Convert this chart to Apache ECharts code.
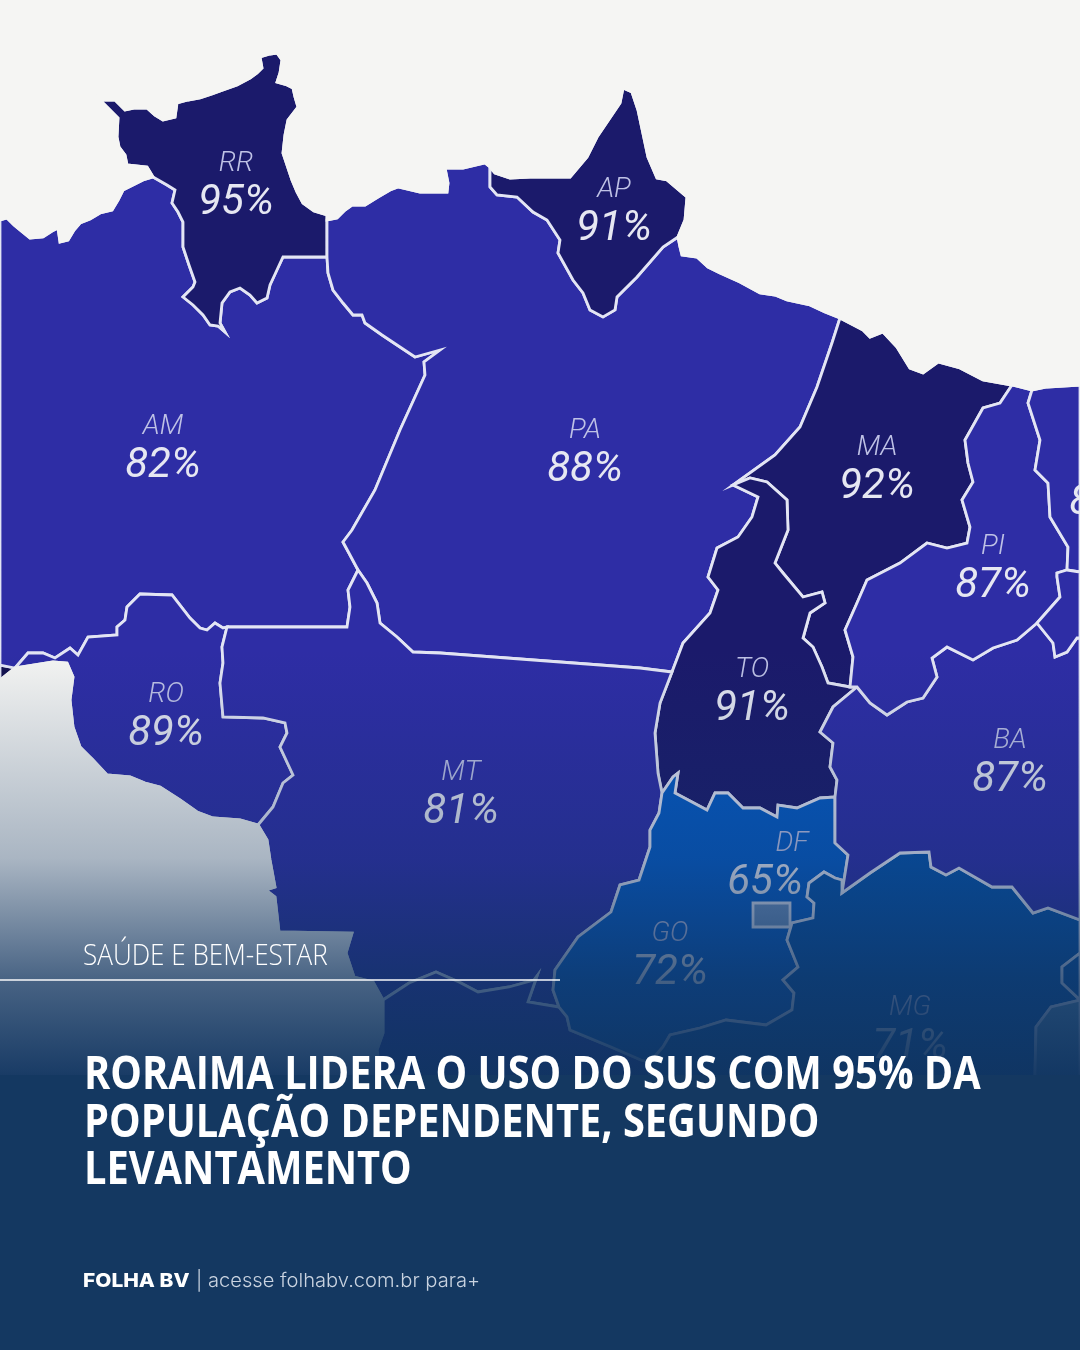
<!DOCTYPE html>
<html>
<head>
<meta charset="utf-8">
<title>Roraima lidera o uso do SUS</title>
<style>
  html, body { margin: 0; padding: 0; background: #f5f5f3; }
  #chart { width: 1080px; height: 1350px; }
</style>
<script src="https://cdn.jsdelivr.net/npm/echarts@6/dist/echarts.min.js"></script>
</head>
<body>
<div id="chart"></div>
<script>
// valores
const states = ['RR', 'AP', 'AM', 'PA', 'MA', 'PI', 'TO', 'RO', 'MT', 'BA', 'GO', 'DF', 'MG', 'CE'];
const percents = [95, 91, 82, 88, 92, 87, 91, 89, 81, 87, 72, 65, 71, 85];

const titleLines = [
  'RORAIMA LIDERA O USO DO SUS COM 95% DA',
  'POPULAÇÃO DEPENDENTE, SEGUNDO',
  'LEVANTAMENTO'
];
const kicker = 'SAÚDE E BEM-ESTAR';
const brand = 'FOLHA BV';
const footer = '| acesse folhabv.com.br para+';

// contornos do mapa de fundo (divisas compartilhadas entre estados)
const AM_COAST = [[0,220],[7,218],[14,225],[20,230],[30,238],[43,237],[52,231],[58,228],[60,242],[68,240],[74,230],[80,223],[90,219],[100,213],[112,210],[118,200],[123,190],[133,185],[143,180],[153,177]];
const RR_AM = [[153,177],[167,185],[175,190],[172,203],[178,212],[183,222],[183,247],[189,265],[195,282],[193,287],[183,297],[193,305],[203,315],[210,325],[218,326],[225,332],[220,323],[222,303],[230,292],[240,288],[250,295],[257,303],[267,298],[270,285],[276,272],[283,257],[327,257]];
const RR_OUT = [[153,177],[147,167],[127,165],[125,155],[119,147],[117,137],[118,118],[107,107],[93,93],[100,100],[115,100],[125,110],[135,108],[147,108],[155,115],[163,120],[175,117],[177,103],[188,100],[200,98],[212,94],[223,90],[237,85],[250,78],[257,73],[262,68],[260,57],[270,54],[277,53],[282,60],[280,73],[277,82],[287,85],[293,88],[295,97],[298,107],[288,120],[285,135],[283,153],[292,180],[297,192],[303,203],[314,211],[327,215],[327,257]];
const PA_AM = [[327,257],[328,273],[333,290],[343,303],[353,315],[362,315],[365,323],[382,335],[400,347],[415,357],[440,350],[424,362],[425,375],[400,430],[375,490],[352,530],[343,542],[350,555],[358,570]];
const AM_MT = [[358,570],[348,590],[350,607],[347,627],[227,627]];
const RO_AM = [[227,627],[223,628],[215,623],[207,630],[200,628],[190,618],[172,595],[140,594],[127,607],[125,620],[117,627],[117,635],[88,637],[78,655],[70,648],[55,658],[43,653],[28,653],[15,668]];
const RO_COAST = [[15,668],[53,662],[67,663],[73,677],[70,700],[73,727],[80,747],[93,760],[107,775],[130,777],[145,783],[160,787],[180,800],[197,812],[213,818],[240,820],[258,825]];
const RO_MT = [[227,627],[222,647],[223,663],[220,683],[223,717],[263,718],[285,723],[287,733],[280,747],[293,775],[283,783],[273,807],[258,825]];
const MT_COAST = [[258,825],[267,840],[270,860],[275,887],[266,890],[275,897],[279,932],[352,933],[346,953],[354,977],[373,982],[383,1000]];
const MS_N = [[383,1000],[409,983],[436,972],[459,982],[478,992],[509,987],[534,980],[537,976],[528,1002],[559,1007]];
const PA_MT = [[358,570],[367,583],[377,603],[380,623],[397,637],[413,652],[440,653],[640,668],[672,672]];
const PA_N = [[327,220],[337,218],[345,210],[352,205],[365,205],[378,197],[390,190],[398,187],[420,192],[447,192],[448,183],[445,168],[463,168],[485,163],[490,167]];
const PA_AP = [[490,167],[490,187],[497,195],[517,197],[533,212],[547,220],[560,240],[558,253],[573,280],[583,293],[590,310],[603,317],[615,310],[617,297],[637,277],[663,247],[678,237]];
const AP_OUT = [[678,237],[685,220],[687,197],[667,180],[657,178],[648,157],[638,110],[632,92],[623,88],[620,103],[597,137],[587,157],[570,177],[547,177],[530,177],[510,178],[495,173],[490,167]];
const PA_E = [[678,237],[680,247],[682,255],[697,257],[708,267],[720,273],[740,282],[760,293],[775,295],[787,300],[810,305],[825,312],[840,318]];
const PA_MA = [[733,485],[775,455],[800,427],[817,387],[832,343],[840,318]];
const TO_W1 = [[733,485],[758,497],[752,517],[738,537],[717,548],[708,577],[718,590],[710,613],[683,643],[672,672]];
const TO_W2 = [[672,672],[660,703],[655,733],[658,773],[662,793]];
const TO_S = [[662,793],[673,777],[678,773],[675,793],[707,810],[715,793],[728,793],[743,808],[760,808],[777,817],[778,805],[797,808],[820,798],[835,797]];
const TO_E = [[835,797],[837,780],[830,767],[833,743],[820,732],[833,707],[857,687],[850,687]];
const TO_MA = [[850,687],[828,683],[822,667],[813,647],[803,638],[810,613],[825,603],[822,592],[803,597],[783,573],[775,563],[788,530],[787,500],[767,482],[750,478],[733,485]];
const MA_COAST = [[840,318],[863,330],[870,337],[883,332],[897,347],[910,368],[923,373],[938,362],[960,368],[983,380],[1012,385]];
const PI_MA = [[1012,385],[1000,403],[983,408],[965,440],[968,463],[973,482],[962,500],[970,527],[967,543],[947,548],[927,543],[900,563],[867,580],[857,603],[845,630],[853,657],[850,687]];
const PI_COAST = [[1012,385],[1020,387],[1032,390]];
const PI_CE = [[1032,390],[1028,403],[1040,440],[1035,470],[1048,483],[1050,517],[1068,547],[1067,570]];
const PI_PE = [[1067,570],[1057,573],[1057,577],[1060,597],[1037,623]];
const PI_BA = [[857,687],[870,703],[887,715],[907,702],[923,698],[937,677],[932,658],[947,647],[973,660],[993,648],[1017,640],[1037,623]];
const BA_PE = [[1037,623],[1053,643],[1055,657],[1067,652],[1077,638],[1080,638]];
const GO_W = [[662,793],[659,813],[650,830],[650,847],[639,880],[620,885],[611,912],[578,937],[555,970],[553,990],[559,1007]];
const GO_S = [[559,1007],[567,1017],[570,1030],[611,1047],[641,1060],[650,1062]];
const GO_MG = [[650,1062],[663,1047],[670,1035],[700,1028],[726,1020],[766,1025],[792,1010],[794,993],[783,980],[798,967],[787,940],[792,923],[813,918],[814,903],[807,897],[809,883],[824,872],[835,878],[842,880],[842,893]];
const GO_E = [[842,893],[848,855],[835,843],[835,813],[835,797]];
const MG_N = [[842,893],[870,873],[900,853],[929,852],[931,867],[946,875],[959,868],[992,887],[1012,887],[1033,913],[1048,908],[1080,920]];
const ES_W = [[1080,953],[1062,967],[1062,983],[1080,1000]];
const RJ_W = [[1080,1000],[1051,1007],[1036,1027],[1035,1073],[1035,1090]];

const rev = (a) => a.slice().reverse();

const outlines = {
  frame: [[0,0],[1080,0],[1080,1350],[0,1350]],
  AC: [[0,665],[15,668],[0,680]],
  AM: [...AM_COAST, ...RR_AM, ...PA_AM, ...AM_MT, ...RO_AM, [0,665]],
  RR: [...RR_OUT, ...rev(RR_AM)],
  PA: [...PA_N, ...PA_AP, ...PA_E, ...rev(PA_MA), ...TO_W1, ...rev(PA_MT), ...rev(PA_AM)],
  AP: [...PA_AP, ...AP_OUT],
  MA: [...MA_COAST, ...PI_MA, ...TO_MA, ...PA_MA],
  TO: [...TO_W1, ...TO_W2, ...TO_S, ...TO_E, ...TO_MA],
  RO: [...RO_AM, ...RO_COAST, ...rev(RO_MT)],
  MT: [...rev(AM_MT), ...PA_MT, ...TO_W2, ...GO_W, ...rev(MS_N), ...rev(MT_COAST), ...rev(RO_MT)],
  MS: [...MS_N, ...GO_S, [650,1090], [383,1090], [377,1050], [383,1033]],
  GO: [...GO_W, ...GO_S, ...GO_MG, ...GO_E, ...rev(TO_S)],
  DF: [[753,903],[790,903],[790,927],[753,927]],
  MG: [...GO_MG, ...MG_N, ...ES_W, ...RJ_W, [650,1090]],
  BA: [...PI_BA, ...BA_PE, [1080,920], ...rev(MG_N), ...GO_E, ...TO_E.slice(0, -1)],
  PI: [...PI_COAST, ...PI_CE, ...PI_PE, ...rev(PI_BA), ...rev(PI_MA)],
  CE: [[1032,390],[1047,387],[1080,385],[1080,572],...rev(PI_CE)],
  PE: [[1080,572],...PI_PE,...BA_PE],
  ES: [[1080,953],...ES_W.slice(1)],
  RJ: [...RJ_W, [1080,1090]],
  // mar por cima das terras, esconde a borda clara no litoral
  seaN: [[0,0],[1080,0],[1080,385],[1047,387],[1032,390],...rev(PI_COAST),...rev(MA_COAST),...rev(PA_E),...AP_OUT,...rev(PA_N),...rev(RR_OUT.slice(0, -1)),...rev(AM_COAST)],
  seaS: [[0,680],[15,668],...RO_COAST,...MT_COAST,[383,1033],[377,1050],[383,1090],[0,1090]]
};

// centro de cada rótulo
const labelCenters = {
  RR: [236,186], AP: [614,212], AM: [163,449], PA: [585,453], MA: [877,470], PI: [993,569],
  TO: [752,692], RO: [166,717], MT: [461,795], BA: [1010,763], GO: [670,956], DF: [765,866],
  MG: [910,1030], CE: [1107,486]
};

const regionColor = (v) => {
  if (v >= 90) return '#1b1a6b';
  if (v >= 75) return '#2e2da5';
  return '#0559c3';
};

const geoJson = {
  type: 'FeatureCollection',
  features: Object.keys(outlines).map((name) => ({
    type: 'Feature',
    properties: { name, cp: labelCenters[name] || outlines[name][0] },
    geometry: { type: 'Polygon', coordinates: [[...outlines[name], outlines[name][0]]] }
  }))
};

const baseFills = {
  frame: '#f5f5f3', seaN: '#f5f5f3', seaS: '#f5f5f3', AC: '#14124f', MS: '#2e2da5', PE: '#2e2da5',
  ES: '#0550a8', RJ: '#5f8fb4', DF: '#7294c2'
};

const buildData = () => {
  const noLabel = Object.keys(outlines).filter((n) => !states.includes(n)).map((name) => ({
    name,
    value: null,
    label: { show: false },
    itemStyle: {
      areaColor: baseFills[name],
      borderColor: name.startsWith('sea') ? baseFills[name] : '#e3e5f4',
      borderWidth: name === 'frame' ? 0 : 2.8
    }
  }));
  const labelled = states.map((name, i) => ({
    name,
    value: percents[i],
    itemStyle: { areaColor: name === 'DF' ? baseFills.DF : name === 'MG' ? '#0550a8' : regionColor(percents[i]) }
  }));
  return [...noLabel, ...labelled];
};

const getOption = () => ({
  animation: false,
  series: [{
    type: 'map',
    map: 'norte',
    projection: { project: (p) => p, unproject: (p) => p },
    aspectScale: 1,
    left: 0, top: 0, width: 1080, height: 1350,
    roam: false,
    silent: true,
    selectedMode: false,
    data: buildData(),
    itemStyle: { borderColor: '#e3e5f4', borderWidth: 2.8 },
    emphasis: { disabled: true },
    label: {
      show: true,
      formatter: (p) => {
        const nameStyle = p.name === 'DF' ? 'nameDf' : 'name';
        return `{${nameStyle}|${p.name}}\n{val|${p.value}%}`;
      },
      rich: {
        name: { fontFamily: 'Roboto', fontStyle: 'italic', fontWeight: 300, fontSize: 28, lineHeight: 35, color: '#bfc2e6', align: 'center' },
        nameDf: { fontFamily: 'Roboto', fontStyle: 'italic', fontWeight: 300, fontSize: 28, lineHeight: 35, color: '#bfc2e6', align: 'center', padding: [0, 0, 0, 54] },
        val: { fontFamily: 'Roboto', fontStyle: 'italic', fontWeight: 400, fontSize: 42, lineHeight: 44, color: '#e6e7f2', align: 'center' }
      }
    }
  }],
  graphic: [
    {
      type: 'rect', z: 100,
      shape: { x: 0, y: 650, width: 1080, height: 425 },
      style: {
        fill: {
          type: 'linear', x: 0, y: 0, x2: 0, y2: 1,
          colorStops: [
            { offset: 0, color: 'rgba(16,52,96,0)' },
            { offset: 0.49, color: 'rgba(16,52,96,0.33)' },
            { offset: 0.78, color: 'rgba(16,52,96,0.76)' },
            { offset: 1, color: 'rgba(16,52,96,0.96)' }
          ]
        }
      }
    },
    { type: 'rect', z: 100, shape: { x: 0, y: 1075, width: 1080, height: 275 }, style: { fill: '#143861' } },
    { type: 'rect', z: 101, shape: { x: 0, y: 979, width: 560, height: 2 }, style: { fill: 'rgba(255,255,255,0.72)' } },
    {
      type: 'text', z: 102, x: 83, y: 957, scaleX: 0.9,
      style: { text: kicker, fill: '#ffffff', fontFamily: 'Open Sans', fontWeight: 300, fontSize: 29, verticalAlign: 'middle' }
    },
    ...titleLines.map((text, i) => ({
      type: 'text', z: 102, x: 84, y: 1076 + i * 47.5, scaleX: 0.865,
      style: { text, fill: '#ffffff', fontFamily: 'Open Sans', fontWeight: 700, fontSize: 46, verticalAlign: 'middle' }
    })),
    {
      type: 'text', z: 102, x: 83, y: 1281, scaleX: 1.1,
      style: { text: brand, fill: '#ffffff', fontFamily: 'Inter', fontWeight: 800, fontSize: 19, verticalAlign: 'middle' }
    },
    {
      type: 'text', z: 102, x: 196, y: 1281, scaleX: 1.06,
      style: { text: footer, fill: '#c9d3e0', fontFamily: 'Inter', fontWeight: 300, fontSize: 19, verticalAlign: 'middle' }
    }
  ]
});

const initChart = () => {
  echarts.registerMap('norte', geoJson);
  const chart = echarts.init(document.getElementById('chart'));
  chart.setOption(getOption());
};

window.addEventListener('load', () => {
  initChart();
});
</script>
</body>
</html>
